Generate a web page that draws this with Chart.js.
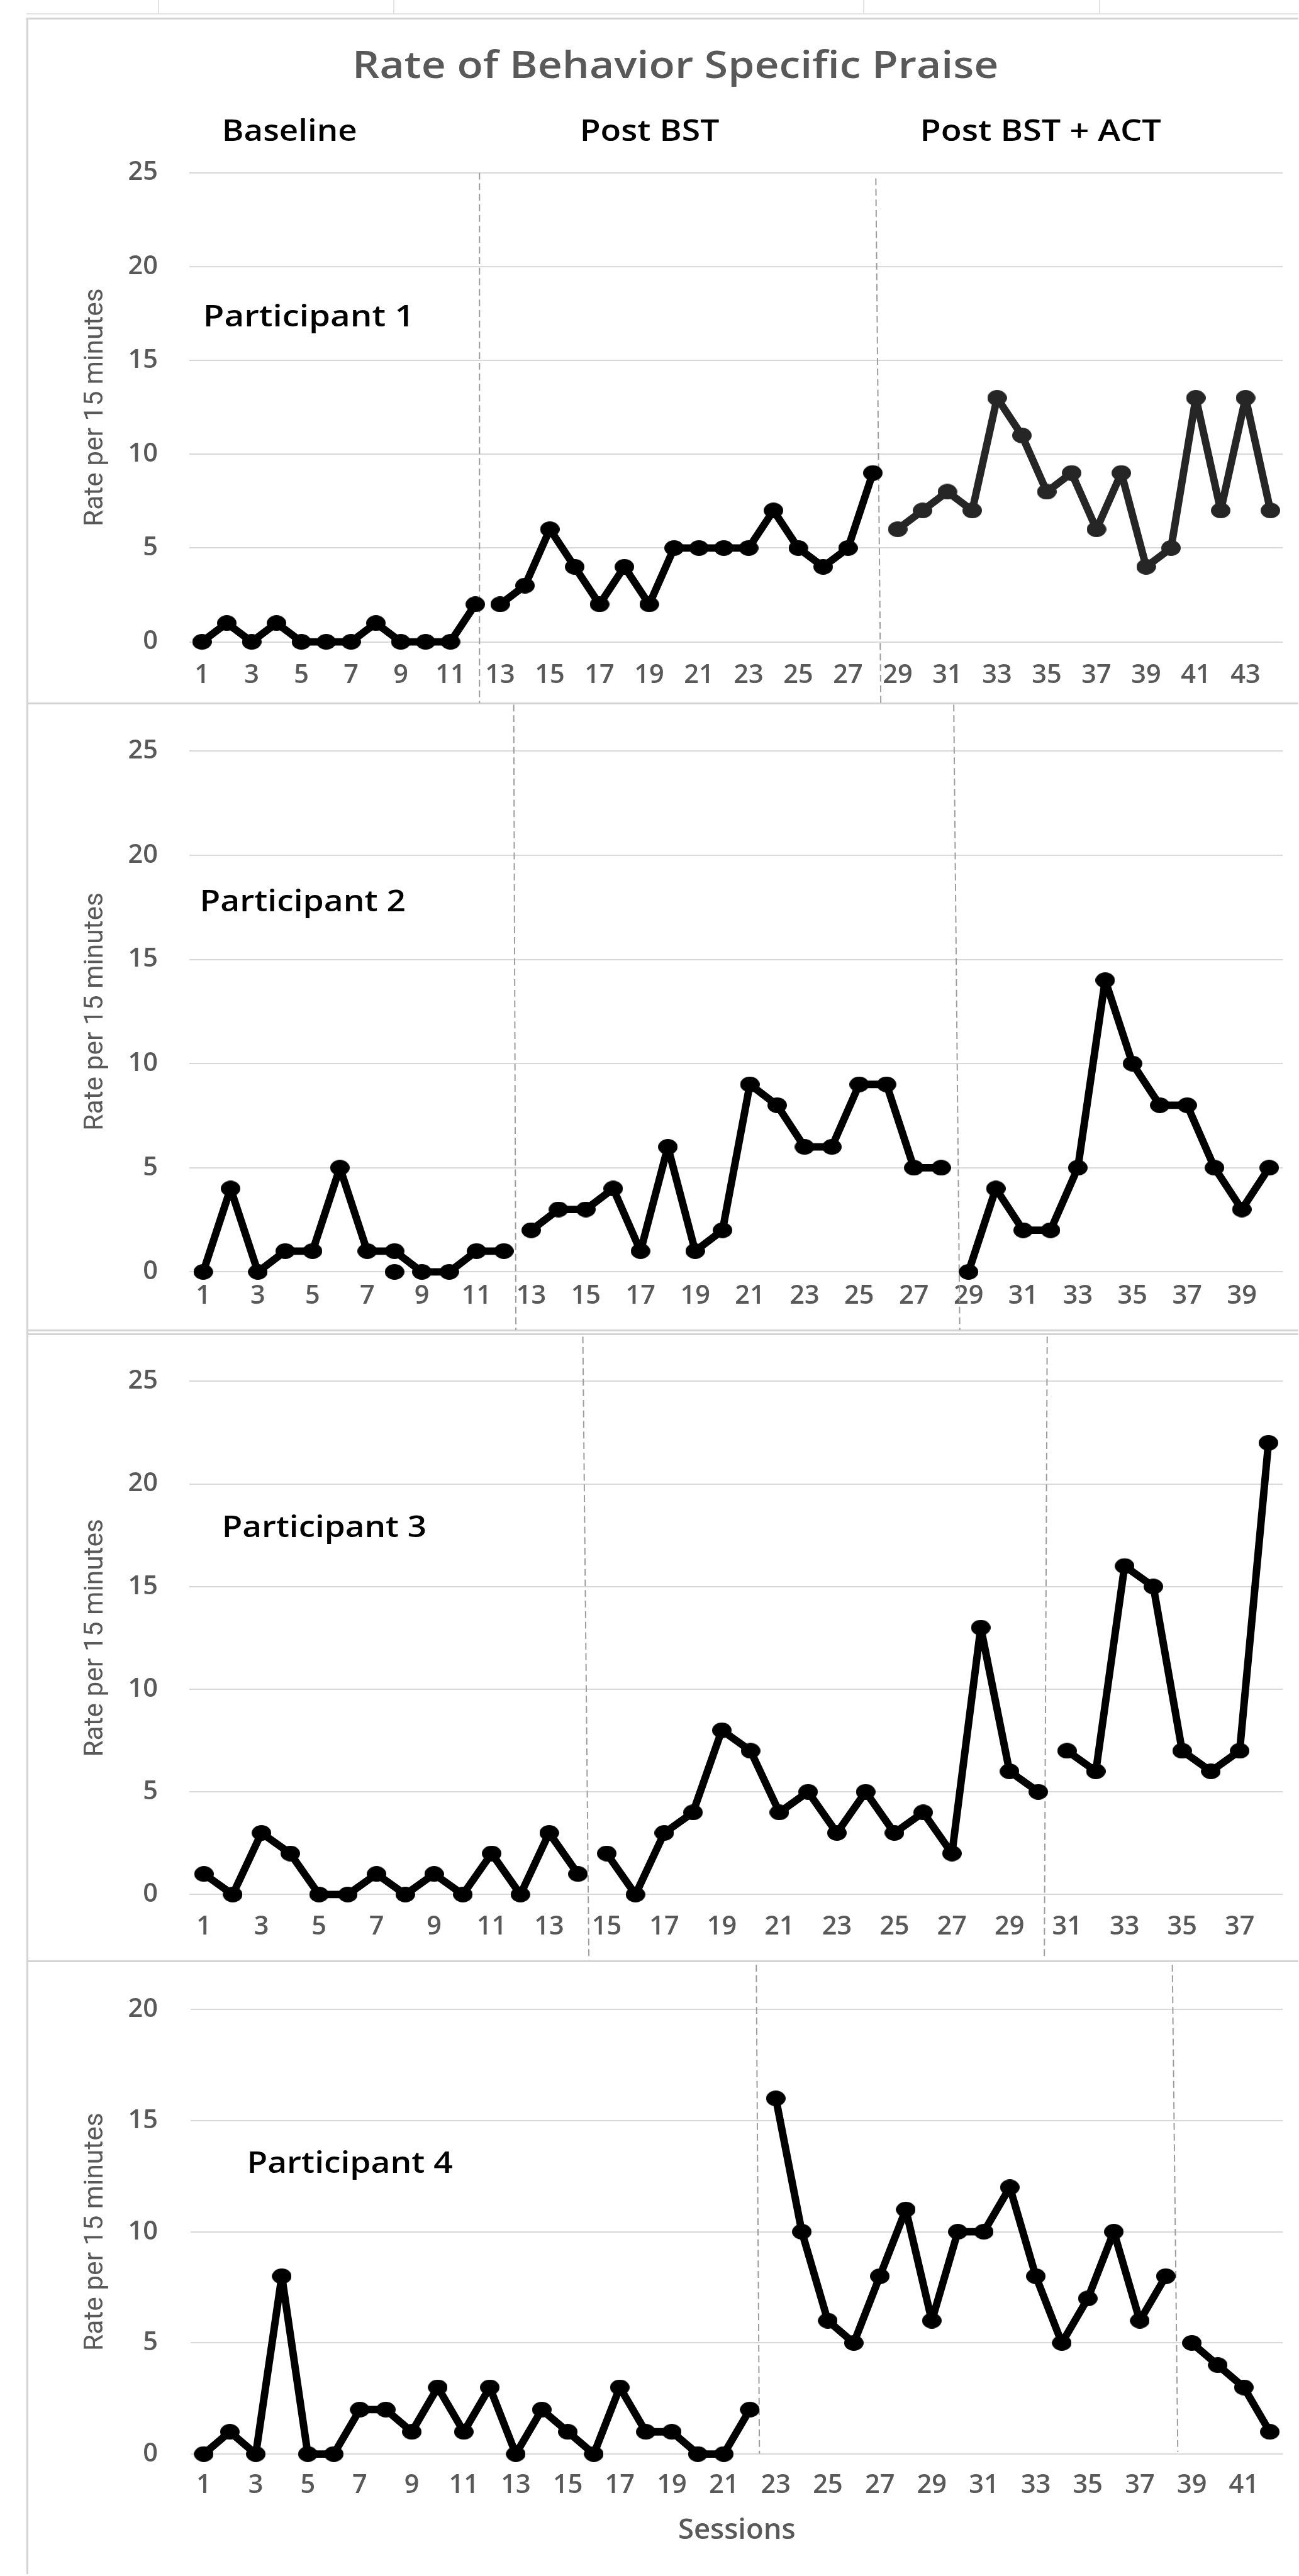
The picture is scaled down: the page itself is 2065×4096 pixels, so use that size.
<!DOCTYPE html>
<html>
<head>
<meta charset="utf-8">
<script src="https://cdn.jsdelivr.net/npm/chart.js@4.4.1/dist/chart.umd.min.js"></script>
<style>
  html, body { margin: 0; padding: 0; background: #ffffff; }
  body { width: 2065px; height: 4096px; position: relative; overflow: hidden; }
  canvas { position: absolute; left: 0; }
  .rule { position: absolute; }
</style>
</head>
<body>
<script>
/* =========================================================
   RATE OF BEHAVIOR SPECIFIC PRAISE - 4 PANEL MULTIPLE BASELINE
   ========================================================= */

const S = 0.988;                       // page scale vs reference
const FONT = '"Open Sans", "DejaVu Sans", sans-serif';
const GRAY = '#595959';

/* ================= TEXT ================= */
const CHART_TITLE = 'Rate of Behavior Specific Praise';
const PHASE_NAMES = ['Baseline', 'Post BST', 'Post BST + ACT'];
const PARTICIPANTS = ['Participant 1', 'Participant 2', 'Participant 3', 'Participant 4'];
const Y_TITLE = 'Rate per 15 minutes';
const X_TITLE = 'Sessions';

/* ================= AXES ================= */
const SESSIONS = [1, 2, 3, 4, 5, 6, 7, 8, 9, 10, 11, 12, 13, 14, 15, 16, 17, 18, 19, 20, 21, 22,
                  23, 24, 25, 26, 27, 28, 29, 30, 31, 32, 33, 34, 35, 36, 37, 38, 39, 40, 41, 42, 43, 44];
const SESSION_COUNT = [44, 40, 38, 42];
const Y_MAX = [25, 25, 25, 20];
const Y_STEP = 5;

/* ================= DATA ================= */
// participant 1
const p1Baseline   = [0, 1, 0, 1, 0, 0, 0, 1, 0, 0, 0, 2];
const p1PostBst    = [2, 3, 6, 4, 2, 4, 2, 5, 5, 5, 5, 7, 5, 4, 5, 9];
const p1PostBstAct = [6, 7, 8, 7, 13, 11, 8, 9, 6, 9, 4, 5, 13, 7, 13, 7];

// participant 2
const p2Baseline   = [0, 4, 0, 1, 1, 5, 1, 1, 0, 0, 1, 1];
const p2PostBst    = [2, 3, 3, 4, 1, 6, 1, 2, 9, 8, 6, 6, 9, 9, 5, 5];
const p2PostBstAct = [0, 4, 2, 2, 5, 14, 10, 8, 8, 5, 3, 5];
const p2StraySessions = [8];
const p2StrayValues   = [0];

// participant 3
const p3Baseline   = [1, 0, 3, 2, 0, 0, 1, 0, 1, 0, 2, 0, 3, 1];
const p3PostBst    = [2, 0, 3, 4, 8, 7, 4, 5, 3, 5, 3, 4, 2, 13, 6, 5];
const p3PostBstAct = [7, 6, 16, 15, 7, 6, 7, 22];

// participant 4
const p4Baseline   = [0, 1, 0, 8, 0, 0, 2, 2, 1, 3, 1, 3, 0, 2, 1, 0, 3, 1, 1, 0, 0, 2];
const p4PostBst    = [16, 10, 6, 5, 8, 11, 6, 10, 10, 12, 8, 5, 7, 10, 6, 8];
const p4PostBstAct = [5, 4, 3, 1];

/* ================= LAYOUT (reference pixels) ================= */
// box: panel top/bottom, plot: top, bottom, left, right
// cuts: phase change line [session at top, session at bottom, y top, y bottom]
const PANELS = [
    {
        values: [p1Baseline, p1PostBst, p1PostBstAct],
        colors: ['#000000', '#000000', '#262626'],
        count: SESSION_COUNT[0], yMax: Y_MAX[0], label: PARTICIPANTS[0],
        box: [29, 1132], plot: [278, 1033, 305, 2070], tickGap: 54,
        tag: [331.5, 525, 325],
        cuts: [[12.17, 12.17, 278, 1132], [28.12, 28.32, 287, 1132]],
        head: true
    },
    {
        values: [p2Baseline, p2PostBst, p2PostBstAct],
        colors: ['#000000', '#000000', '#000000'],
        stray: [p2StraySessions, p2StrayValues],
        count: SESSION_COUNT[1], yMax: Y_MAX[1], label: PARTICIPANTS[1],
        box: [1133, 2141], plot: [1182, 2047, 305, 2072], tickGap: 39,
        tag: [326, 1467, 325],
        cuts: [[12.36, 12.44, 1134, 2141], [28.46, 28.68, 1134, 2141]]
    },
    {
        values: [p3Baseline, p3PostBst, p3PostBstAct],
        colors: ['#000000', '#000000', '#000000'],
        count: SESSION_COUNT[2], yMax: Y_MAX[2], label: PARTICIPANTS[2],
        box: [2147, 3156], plot: [2197, 3049, 305, 2073], tickGap: 52,
        tag: [361.6, 2474, 323],
        cuts: [[14.17, 14.38, 2151, 3154], [30.31, 30.21, 2151, 3154]]
    },
    {
        values: [p4Baseline, p4PostBst, p4PostBstAct],
        colors: ['#000000', '#000000', '#000000'],
        count: SESSION_COUNT[3], yMax: Y_MAX[3], label: PARTICIPANTS[3],
        box: [3156, 4143], plot: [3194, 3949.5, 307, 2074], tickGap: 51,
        tag: [401.8, 3497, 326],
        cuts: [[22.25, 22.37, 3162, 3949], [38.25, 38.46, 3162, 3946]],
        xTitle: true
    }
];

/* ================= FRAME LINES ================= */
function rule(x, y, w, h, color) {
    const d = document.createElement('div');
    d.className = 'rule';
    d.style.left = (x * S) + 'px';
    d.style.top = (y * S) + 'px';
    d.style.width = (w * S) + 'px';
    d.style.height = (h * S) + 'px';
    d.style.background = color;
    document.body.appendChild(d);
}

rule(43, 21, 2046, 2, '#e2e2e2');
[254, 633, 1389, 1768].forEach(x => rule(x, 0, 2, 22, '#e2e2e2'));
[28, 1131, 2140, 2146, 3155].forEach(y => rule(43, y, 2046, 3, '#d3d3d3'));
rule(43, 28, 3, 4115, '#d3d3d3');

/* ================= HELPERS ================= */
function dot(color) {
    const c = document.createElement('canvas');
    const w = Math.round(31 * S), h = Math.round(25 * S);
    c.width = w;
    c.height = h;
    const g = c.getContext('2d');
    g.fillStyle = color;
    g.beginPath();
    g.ellipse(w / 2, h / 2, w / 2, h / 2, 0, 0, Math.PI * 2);
    g.fill();
    return c;
}

function lineSet(data, color, showLine) {
    return {
        data,
        showLine,
        borderColor: color,
        backgroundColor: color,
        borderWidth: 12 * S,
        borderJoinStyle: 'round',
        borderCapStyle: 'round',
        pointStyle: dot(color),
        pointRadius: 13 * S,
        tension: 0,
        spanGaps: false,
        clip: false
    };
}

function buildDatasets(cfg) {
    let start = 0;
    const sets = cfg.values.map((vals, k) => {
        const data = new Array(cfg.count).fill(null);
        vals.forEach((v, i) => { data[start + i] = v; });
        start += vals.length;
        return lineSet(data, cfg.colors[k], true);
    });
    if (cfg.stray) {
        const data = new Array(cfg.count).fill(null);
        cfg.stray[0].forEach((s, i) => { data[s - 1] = cfg.stray[1][i]; });
        sets.push(lineSet(data, '#000000', false));
    }
    return sets;
}

// draw text so that its ink spans exactly [x, x + width]
function inkText(ctx, text, x, base, width, size, weight, color) {
    ctx.save();
    ctx.font = `${weight} ${size * S}px ${FONT}`;
    ctx.fillStyle = color;
    ctx.textAlign = 'left';
    ctx.textBaseline = 'alphabetic';
    const m = ctx.measureText(text);
    const ink = m.actualBoundingBoxLeft + m.actualBoundingBoxRight;
    ctx.translate(x, base);
    ctx.scale((width * S) / ink, 1);
    ctx.fillText(text, m.actualBoundingBoxLeft, 0);
    ctx.restore();
}

/* ================= PLUGINS ================= */
function phaseLinePlugin(cfg, top) {
    return {
        id: 'phaseLines',
        beforeDatasetsDraw(chart) {
            const { ctx, scales: { x } } = chart;
            ctx.save();
            ctx.strokeStyle = '#9c9c9c';
            ctx.lineWidth = 2 * S;
            ctx.setLineDash([11 * S, 6 * S]);
            cfg.cuts.forEach(c => {
                ctx.beginPath();
                ctx.moveTo(x.getPixelForValue(c[0] - 1), c[2] * S - top);
                ctx.lineTo(x.getPixelForValue(c[1] - 1), c[3] * S - top);
                ctx.stroke();
            });
            ctx.restore();
        }
    };
}

function labelPlugin(cfg, top) {
    return {
        id: 'panelLabels',
        afterDraw(chart) {
            const ctx = chart.ctx;
            inkText(ctx, cfg.label, cfg.tag[0] * S, cfg.tag[1] * S - top, cfg.tag[2], 47, 600, '#000000');
            if (!cfg.head) return;
            inkText(ctx, CHART_TITLE, 572.6 * S, 125 * S - top, 1031, 61, 600, GRAY);
            const phasePos = [[361.6, 211], [937.5, 219.5], [1485, 383]];
            PHASE_NAMES.forEach((name, i) => {
                inkText(ctx, name, phasePos[i][0] * S, 227 * S - top, phasePos[i][1], 47, 600, '#000000');
            });
        }
    };
}

/* ================= RENDER ================= */
function renderPanel(cfg) {
    const [boxTop, boxBottom] = cfg.box;
    const [plotTop, plotBottom, plotLeft, plotRight] = cfg.plot;
    const top = Math.round(boxTop * S);
    const height = Math.round(boxBottom * S) - top;
    const width = Math.round(2089 * S);

    const canvas = document.createElement('canvas');
    canvas.width = width;
    canvas.height = height;
    canvas.style.top = top + 'px';
    canvas.style.width = width + 'px';
    canvas.style.height = height + 'px';
    document.body.appendChild(canvas);

    const tickSize = 42 * S;
    const xAxisH = cfg.xTitle ? 170 : 90;
    const yTitleSize = 43 * S;
    const xTitleSize = 46 * S;

    new Chart(canvas, {
        type: 'line',
        data: {
            labels: SESSIONS.slice(0, cfg.count),
            datasets: buildDatasets(cfg)
        },
        options: {
            responsive: false,
            animation: false,
            devicePixelRatio: 1,
            events: [],
            layout: {
                padding: {
                    left: 0,
                    right: width - plotRight * S,
                    top: plotTop * S - top,
                    bottom: (top + height) - plotBottom * S - xAxisH * S
                }
            },
            plugins: {
                legend: { display: false },
                tooltip: { enabled: false },
                title: { display: false }
            },
            scales: {
                x: {
                    type: 'category',
                    offset: true,
                    grid: { display: false, drawTicks: false },
                    border: { display: false },
                    ticks: {
                        autoSkip: false,
                        maxRotation: 0,
                        minRotation: 0,
                        color: GRAY,
                        font: { family: FONT, size: tickSize, weight: 600 },
                        padding: cfg.tickGap * S - tickSize * 0.6,
                        callback: function (value, index) {
                            return index % 2 === 0 ? this.getLabelForValue(value) : '';
                        }
                    },
                    title: {
                        display: !!cfg.xTitle,
                        text: X_TITLE,
                        color: GRAY,
                        font: { family: FONT, size: xTitleSize, weight: 600 },
                        padding: { top: 0, bottom: 18.9 * S }
                    },
                    afterFit: scale => { scale.height = xAxisH * S; }
                },
                y: {
                    min: 0,
                    max: cfg.yMax,
                    grid: { color: '#d9d9d9', lineWidth: 2 * S, drawTicks: false },
                    border: { display: false },
                    ticks: {
                        stepSize: Y_STEP,
                        color: GRAY,
                        font: { family: FONT, size: tickSize, weight: 600 },
                        padding: (plotLeft - 254) * S
                    },
                    title: {
                        display: true,
                        text: Y_TITLE,
                        color: GRAY,
                        font: { family: 'Roboto, "Open Sans", sans-serif', size: yTitleSize, weight: 400 },
                        padding: { top: 154 * S - yTitleSize * 0.6, bottom: 0 }
                    },
                    afterFit: scale => { scale.width = plotLeft * S; }
                }
            }
        },
        plugins: [phaseLinePlugin(cfg, top), labelPlugin(cfg, top)]
    });
}

PANELS.forEach(renderPanel);
</script>
</body>
</html>
